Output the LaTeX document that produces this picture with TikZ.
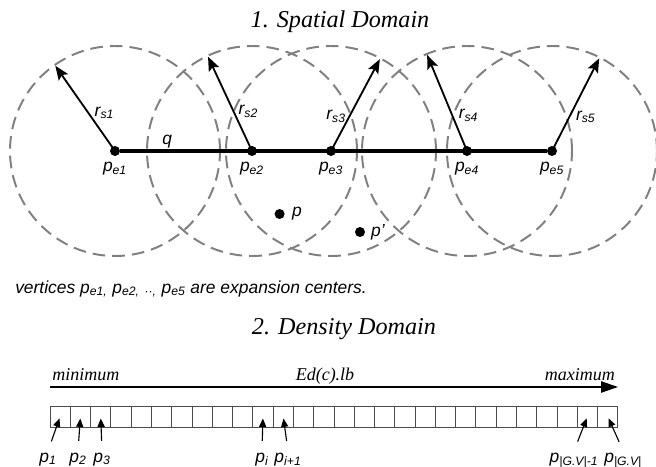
\documentclass[tikz,border=0pt]{standalone}
\usepackage{fontspec}
\setmainfont{Liberation Serif}
\setsansfont{Liberation Sans}
\usetikzlibrary{arrows.meta,positioning}

\begin{document}
\begin{tikzpicture}[
	zone/.style={draw=black!50, line width=1.4pt, dash pattern=on 9pt off 5pt},
	vertex/.style={circle, fill=black, inner sep=0pt, minimum size=0.25cm},
	qline/.style={line width=2.6pt},
	rarrow/.style={line width=1.3pt, -{Stealth[length=10pt, width=8pt, inset=2pt]}},
	lab/.style={font=\sffamily\itshape\fontsize{12.4}{14}\selectfont, inner sep=1pt},
	heading/.style={font=\itshape\fontsize{17.2}{20}\selectfont, inner sep=0pt},
	axislab/.style={font=\itshape\fontsize{12.8}{15}\selectfont, inner sep=0pt},
	axis/.style={line width=1pt, -{Triangle[length=12pt, width=8pt]}},
	cell/.style={draw=black!70, line width=0.6pt, minimum width=0.507cm, minimum height=0.525cm, inner sep=0pt, outer sep=0pt},
	ptr/.style={line width=0.8pt, -{Triangle[length=6pt, width=5pt]}, shorten <=0.25cm, shorten >=1.4pt}
]
	\useasboundingbox (0, 0) rectangle (16.4, 11.65);

	\node[heading, anchor=base] (t1) at (8.5, 10.975) {1. Spatial Domain};

	\node[vertex] (e1) at (2.875, 7.875) {};
	\node[vertex] (e2) at (6.3, 7.875) {};
	\node[vertex] (e3) at (8.275, 7.875) {};
	\node[vertex] (e4) at (11.675, 7.875) {};
	\node[vertex] (e5) at (13.8, 7.875) {};
	\foreach \c in {e1, e2, e3, e4, e5}
		\draw[zone] (\c.center) circle (2.625);

	\draw[qline] (e1) -- (e5) node[lab, pos=0.11, above=0pt] (q) {q};

	\draw[rarrow] (e1.center) -- ++(125:2.6) node[lab, pos=0.45, right=3pt] (r1) {r\textsubscript{s1}};
	\draw[rarrow] (e2.center) -- ++(115:2.6) node[lab, pos=0.42, right=2pt] (r2) {r\textsubscript{s2}};
	\draw[rarrow] (e3.center) -- ++(62:2.6) node[lab, pos=0.38, left=1pt] (r3) {r\textsubscript{s3}};
	\draw[rarrow] (e4.center) -- ++(112.5:2.6) node[lab, pos=0.37, right=3pt] (r4) {r\textsubscript{s4}};
	\draw[rarrow] (e5.center) -- ++(63:2.6) node[lab, pos=0.37, right=3pt] (r5) {r\textsubscript{s5}};

	\node[lab, below=3pt of e1] (l1) {p\textsubscript{e1}};
	\node[lab, below=3pt of e2] (l2) {p\textsubscript{e2}};
	\node[lab, below=3pt of e3] (l3) {p\textsubscript{e3}};
	\node[lab, below=3pt of e4] (l4) {p\textsubscript{e4}};
	\node[lab, below=3pt of e5] (l5) {p\textsubscript{e5}};

	\node[vertex] (p) at (6.99, 6.3) {};
	\node[lab, right=4pt of p] (pl) {p};
	\node[vertex] (pp) at (9.0, 5.85) {};
	\node[lab, right=3pt of pp] (ppl) {p'};

	\node[lab, anchor=base west, inner sep=0pt] (note) at (0.375, 4.325) {vertices p\textsubscript{e1,} p\textsubscript{e2,} \textsubscript{··,} p\textsubscript{e5} are expansion centers.};

	\node[heading, anchor=base] (t2) at (8.6, 3.3) {2. Density Domain};

	\coordinate (lo) at (1.25, 1.975);
	\coordinate (hi) at (15.45, 1.975);
	\draw[axis] (lo) -- (hi);
	\node[axislab, anchor=base west] (min) at (1.3, 2.15) {minimum};
	\node[axislab, anchor=base] (ed) at (8.125, 2.15) {Ed(c).lb};
	\node[axislab, anchor=base east] (max) at (15.38, 2.15) {maximum};

	\foreach \i in {1, ..., 28}
		\node[cell] (c\i) at ({1.25 + (\i - 0.5) * 0.507}, 1.2375) {};

	\node[lab, anchor=base] (n1) at (1.2, 0.1) {p\textsubscript{1}};
	\node[lab, anchor=base] (n2) at (1.95, 0.1) {p\textsubscript{2}};
	\node[lab, anchor=base] (n3) at (2.55, 0.1) {p\textsubscript{3}};
	\node[lab, anchor=base] (ni) at (6.55, 0.1) {p\textsubscript{i}};
	\node[lab, anchor=base] (nj) at (7.2, 0.1) {p\textsubscript{i+1}};
	\node[lab, anchor=base] (nm) at (14.35, 0.1) {p\textsubscript{|G.V|-1}};
	\node[lab, anchor=base] (nn) at (15.58, 0.1) {p\textsubscript{|G.V|}};
	\draw[ptr] (n1.north) -- (c1.center);
	\draw[ptr] (n2.north) -- (c2.center);
	\draw[ptr] (n3.north) -- (c3.center);
	\draw[ptr] (ni.north) -- (c11.center);
	\draw[ptr] (nj.north) -- (c12.center);
	\draw[ptr] (nm.north) -- (c27.center);
	\draw[ptr] (nn.north) -- (c28.center);
\end{tikzpicture}
\end{document}
